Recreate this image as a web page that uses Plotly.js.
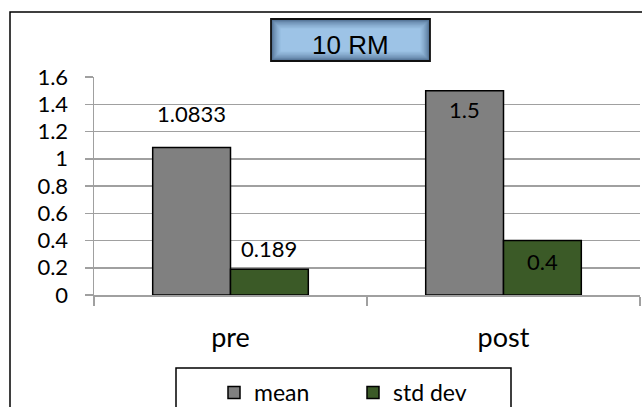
<!DOCTYPE html>
<html>
<head>
<meta charset="utf-8">
<script src="https://cdn.plot.ly/plotly-3.0.1.min.js"></script>
<style>html,body{margin:0;padding:0;background:#fff;}#chart{width:642px;height:407px;}</style>
</head>
<body>
<div id="chart"></div>
<script>
const categories = ["pre", "post"];
const meanValues = [1.0833, 1.5];
const stdValues = [0.189, 0.4];
const seriesNames = ["mean", "std dev"];
const yTickValues = [0, 0.2, 0.4, 0.6, 0.8, 1, 1.2, 1.4, 1.6];
const chartTitle = "10 RM";

const W = 642, H = 407;
const M = {l: 94, r: 2, t: 77, b: 112, autoexpand: false};
const pw = W - M.l - M.r, ph = H - M.t - M.b;
const px = x => (x - M.l) / pw;
const py = y => (H - M.b - y) / ph;

const bargap = 0.43;
const barW = (1 - bargap) / 2;
const FONT = "Lato, 'Open Sans', sans-serif";

const traces = [
  {type: "bar", name: seriesNames[0], x: categories, y: meanValues,
   marker: {color: "#808080", line: {color: "#000", width: 1.5}}},
  {type: "bar", name: seriesNames[1], x: categories, y: stdValues,
   marker: {color: "#3B5A27", line: {color: "#000", width: 1.5}}}
];

// label placement (pixel shifts relative to bar top)
const labelShift = [[34, 21], [-19, -21]];
const annotations = [];
categories.forEach((c, i) => {
  [meanValues, stdValues].forEach((vals, s) => {
    annotations.push({
      xref: "x", yref: "y", x: i + (s === 0 ? -barW / 2 : barW / 2), y: vals[i],
      text: String(vals[i]), showarrow: false, yanchor: "middle",
      yshift: labelShift[i][s],
      font: {family: FONT, size: 22, color: "#000"}
    });
  });
});

// title box with gradient-like layering
const shapes = [];
const tb = {x0: 271, x1: 430, y0: 19, y1: 61};
const steps = 9;
const c0 = [70, 100, 135], c1 = [157, 195, 230];
for (let k = 0; k < steps; k++) {
  const t = k / (steps - 1);
  const col = c0.map((v, j) => Math.round(v + (c1[j] - v) * Math.pow(t, 0.6)));
  const inset = k * 1.2;
  shapes.push({type: "rect", xref: "paper", yref: "paper",
    x0: px(tb.x0 + inset), x1: px(tb.x1 - inset), y0: py(tb.y1 - inset), y1: py(tb.y0 + inset),
    fillcolor: "rgb(" + col.join(",") + ")", line: {width: 0}, layer: "above"});
}
shapes.push({type: "rect", xref: "paper", yref: "paper",
  x0: px(tb.x0), x1: px(tb.x1), y0: py(tb.y1), y1: py(tb.y0),
  fillcolor: "rgba(0,0,0,0)", line: {color: "#111", width: 1.8}, layer: "above"});
// outer chart border
shapes.push({type: "rect", xref: "paper", yref: "paper",
  x0: px(10), x1: px(700), y0: py(460), y1: py(12),
  fillcolor: "rgba(0,0,0,0)", line: {color: "#000", width: 1.5}, layer: "below"});
// legend frame (extends below the picture edge)
shapes.push({type: "rect", xref: "paper", yref: "paper",
  x0: px(176), x1: px(511), y0: py(440), y1: py(368),
  fillcolor: "rgba(0,0,0,0)", line: {color: "#000", width: 1.5}, layer: "above"});

annotations.push({xref: "paper", yref: "paper", x: px((tb.x0 + tb.x1) / 2), y: py((tb.y0 + tb.y1) / 2 + 5),
  text: chartTitle, showarrow: false, xanchor: "center", yanchor: "middle",
  font: {family: "'Liberation Sans', Arial, sans-serif", size: 26, color: "#000"}});

const layout = {
  width: W, height: H,
  margin: M,
  paper_bgcolor: "#fff", plot_bgcolor: "#fff",
  barmode: "group", bargap: bargap, bargroupgap: 0,
  showlegend: true,
  legend: {orientation: "h", x: px(214), xanchor: "left", y: py(371), yanchor: "top",
    borderwidth: 0, bgcolor: "rgba(0,0,0,0)",
    font: {family: FONT, size: 23, color: "#000"},
    entrywidth: 94, traceorder: "normal"},
  xaxis: {type: "category", showgrid: false, showline: true, linecolor: "#A0A0A0", linewidth: 1.5,
    ticks: "outside", tickson: "boundaries", ticklen: 9, tickcolor: "#A0A0A0", tickwidth: 1.5,
    ticklabelstandoff: 18,
    tickfont: {family: FONT, size: 27, color: "#000"}},
  yaxis: {range: [0, 1.6], tickvals: yTickValues, ticktext: yTickValues.map(String),
    showgrid: true, gridcolor: "#A0A0A0", gridwidth: 1.5, zeroline: false,
    showline: true, linecolor: "#A0A0A0", linewidth: 1.5,
    ticks: "outside", ticklen: 8, tickcolor: "#A0A0A0", tickwidth: 1.5,
    ticklabelstandoff: 12,
    tickfont: {family: FONT, size: 22, color: "#000"}},
  annotations: annotations,
  shapes: shapes
};

Plotly.newPlot("chart", traces, layout, {displayModeBar: false, staticPlot: true});
</script>
</body>
</html>
